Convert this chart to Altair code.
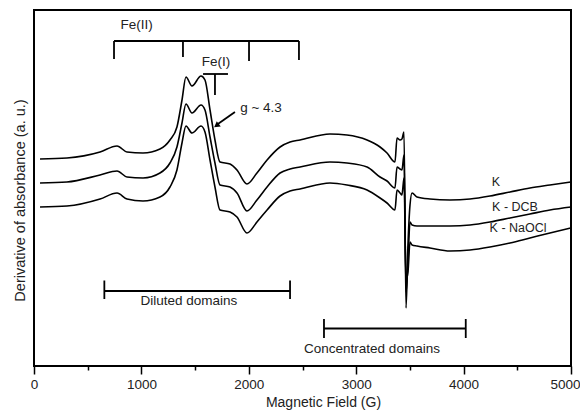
import altair as alt
import pandas as pd

# ---- data (field in gauss, signal in arbitrary units) ----
field = [56, 307, 615, 773, 866, 1015, 1173, 1266, 1331, 1378, 1415, 1471, 1555, 1592,
         1639, 1685, 1732, 1825, 1890, 1983, 2076, 2170, 2291, 2384, 2477, 2756, 2914,
         3101, 3222, 3287, 3361, 3380, 3408, 3426, 3445, 3464, 3482, 3501, 3520, 3566,
         3687, 3873, 4060, 4246, 4432, 4618, 4804, 5000]
k_vals = [207, 208, 214, 220, 214, 213, 217, 226, 239, 266, 289, 280, 290, 286, 256, 226,
          204, 202, 196, 182, 193, 206, 219, 224, 226, 232, 231, 226, 219, 213, 204, 228,
          226, 227, 234, 58, 121, 161, 173, 169, 167, 166, 167, 170, 174, 178, 181, 184]
dcb_vals = [183, 184, 191, 195, 189, 188, 193, 203, 219, 243, 262, 253, 261, 256, 229, 203,
            181, 179, 173, 155, 166, 179, 193, 197, 199, 204, 203, 199, 189, 185, 178, 199,
            197, 196, 211, 74, 104, 144, 141, 140, 140, 140, 141, 144, 148, 152, 156, 159]
naocl_vals = [159, 160, 167, 173, 167, 165, 169, 179, 196, 223, 240, 233, 240, 234, 206, 179,
              156, 154, 149, 133, 144, 156, 170, 175, 177, 183, 181, 176, 168, 163, 156, 176,
              173, 171, 188, 86, 94, 124, 121, 120, 118, 115, 116, 119, 123, 128, 133, 138]
series_names = ["K", "K - DCB", "K - NaOCl"]

# annotation brackets (data units)
seg_x0 = [745, 745, 1387, 2002, 2467, 1574, 1685, 1871, 655, 655, 2384, 2700, 2700, 4020]
seg_x1 = [2467, 745, 1387, 2002, 2467, 1806, 1685, 1712, 2384, 655, 2384, 4020, 2700, 4020]
seg_y0 = [325, 325, 325, 325, 325, 292, 292, 254, 75, 85.5, 85.5, 37.5, 47, 47]
seg_y1 = [325, 307, 309, 305, 306, 292, 271, 242, 75, 67, 67, 37.5, 28, 28]

arrow_field = [1706]
arrow_val = [241]

note_text = ["Fe(II)", "Fe(I)", "g ~ 4.3", "Diluted domains", "Concentrated domains"]
note_field = [956, 1695, 2114, 1443, 3147]
note_val = [341, 304, 258, 65, 17]

series_label_field = [4302, 4479, 4507]
series_label_val = [184, 159, 138]

# ---- tables ----
rows = []
for name, vals in zip(series_names, [k_vals, dcb_vals, naocl_vals]):
    for f, v in zip(field, vals):
        rows.append({"series": name, "field": f, "signal": v})
curves = pd.DataFrame(rows)
segs = pd.DataFrame({"field": seg_x0, "field2": seg_x1, "signal": seg_y0, "signal2": seg_y1})
arrow = pd.DataFrame({"field": arrow_field, "signal": arrow_val})
notes = pd.DataFrame({"field": note_field, "signal": note_val, "text": note_text})
slabels = pd.DataFrame({"field": series_label_field, "signal": series_label_val,
                        "text": series_names})

FONT = "Liberation Sans"
TXT = "#222222"
X_TITLE = "Magnetic Field (G)"
Y_TITLE = "Derivative of absorbance (a. u.)"

x_scale = alt.Scale(domain=[0, 5000], nice=False, zero=False)
y_scale = alt.Scale(domain=[0, 356], nice=False, zero=False)

x_axis = alt.Axis(
    values=list(range(0, 5001, 500)),
    format="d",
    labelExpr="datum.value % 1000 === 0 ? datum.label : ''",
    tickSize={"condition": {"test": "datum.value % 1000 === 0", "value": 8}, "value": 4},
    labelAlign={"condition": {"test": "datum.value === 5000", "value": "right"}, "value": "center"},
    labelOffset={"condition": {"test": "datum.value === 5000", "value": 9}, "value": 0},
    tickColor="black", tickWidth=1.5,
    domain=False, grid=False,
    labelFont=FONT, labelFontSize=13.5, labelColor=TXT, labelPadding=3,
    labelFlush=False, labelOverlap=False,
    titleFont=FONT, titleFontSize=14, titleFontWeight="normal", titleColor=TXT,
    titleX=289, titleY=36, titleBaseline="middle", titleAlign="center",
)
y_axis = alt.Axis(
    labels=False, ticks=False, domain=False, grid=False,
    titleFont=FONT, titleFontSize=14.5, titleFontWeight="normal", titleColor=TXT,
    titleAngle=270, titleX=-14, titleY=190, titleAlign="center", titleBaseline="middle",
)

X = alt.X("field:Q", scale=x_scale, axis=x_axis, title=X_TITLE)
Y = alt.Y("signal:Q", scale=y_scale, axis=y_axis, title=Y_TITLE)

curve_layer = alt.Chart(curves).mark_line(
    color="black", strokeWidth=1.6, interpolate="monotone"
).encode(x=X, y=Y, detail="series:N")

seg_layer = alt.Chart(segs).mark_rule(color="black", strokeWidth=1.8).encode(
    x=X, x2="field2:Q", y=Y, y2="signal2:Q",
)

arrow_layer = alt.Chart(arrow).mark_point(
    shape="triangle", filled=True, color="black", size=45, angle=233, opacity=1
).encode(x=X, y=Y)

note_layer = alt.Chart(notes).mark_text(
    font=FONT, fontSize=13.5, color=TXT, align="center", baseline="middle"
).encode(x=X, y=Y, text="text:N")

slabel_layer = alt.Chart(slabels).mark_text(
    font=FONT, fontSize=12.5, color=TXT, align="center", baseline="middle"
).encode(x=X, y=Y, text="text:N")

chart = alt.layer(curve_layer, seg_layer, arrow_layer, note_layer, slabel_layer).properties(
    width=537, height=356,
    autosize=alt.AutoSizeParams(type="none"),
    padding={"left": 26, "top": 2, "right": 9, "bottom": 44},
    background="white",
).configure_view(stroke="black", strokeWidth=2)

chart.save("out.html", embed_options={"renderer": "svg", "actions": False})
